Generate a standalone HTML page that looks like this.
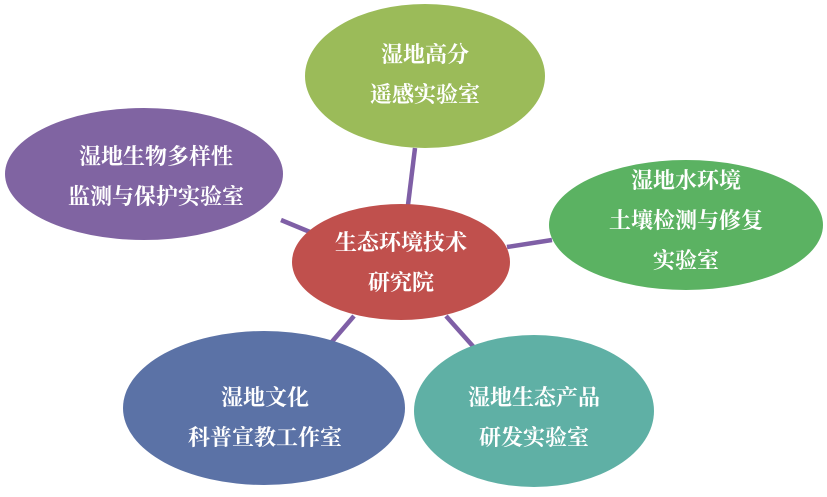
<!DOCTYPE html>
<html><head><meta charset="utf-8"><style>
html,body{margin:0;padding:0;background:#fff;}
svg text{font-family:"Liberation Serif","Noto Serif CJK SC",serif;fill:#fff;font-size:22px;font-weight:bold;text-anchor:middle;}
</style></head><body>
<svg width="827" height="492" viewBox="0 0 827 492" xmlns="http://www.w3.org/2000/svg">
<g stroke="#7f5fa6" stroke-width="4.5">
<line x1="415" y1="148" x2="408" y2="205"/>
<line x1="281" y1="220" x2="310" y2="232"/>
<line x1="507" y1="247" x2="552" y2="240"/>
<line x1="354" y1="316" x2="324" y2="351"/>
<line x1="446" y1="316" x2="479" y2="353"/>
</g>
<ellipse cx="425" cy="76" rx="120" ry="72" fill="#9bbb59"/>
<ellipse cx="144" cy="174" rx="139" ry="66" fill="#8064a2"/>
<ellipse cx="686" cy="225" rx="137" ry="65" fill="#5bb262"/>
<ellipse cx="401" cy="262" rx="109" ry="58" fill="#c0504d"/>
<ellipse cx="264" cy="408" rx="141" ry="77" fill="#5b72a6"/>
<ellipse cx="534" cy="411" rx="120" ry="76" fill="#5fb0a5"/>
<text x="425" y="62">湿地高分</text>
<text x="425" y="102">遥感实验室</text>
<text x="156" y="164">湿地生物多样性</text>
<text x="156" y="204">监测与保护实验室</text>
<text x="686" y="188">湿地水环境</text>
<text x="686" y="228">土壤检测与修复</text>
<text x="686" y="268">实验室</text>
<text x="401" y="250">生态环境技术</text>
<text x="401" y="290">研究院</text>
<text x="265" y="405">湿地文化</text>
<text x="265" y="445">科普宣教工作室</text>
<text x="534" y="405">湿地生态产品</text>
<text x="534" y="445">研发实验室</text>
</svg>
</body></html>
